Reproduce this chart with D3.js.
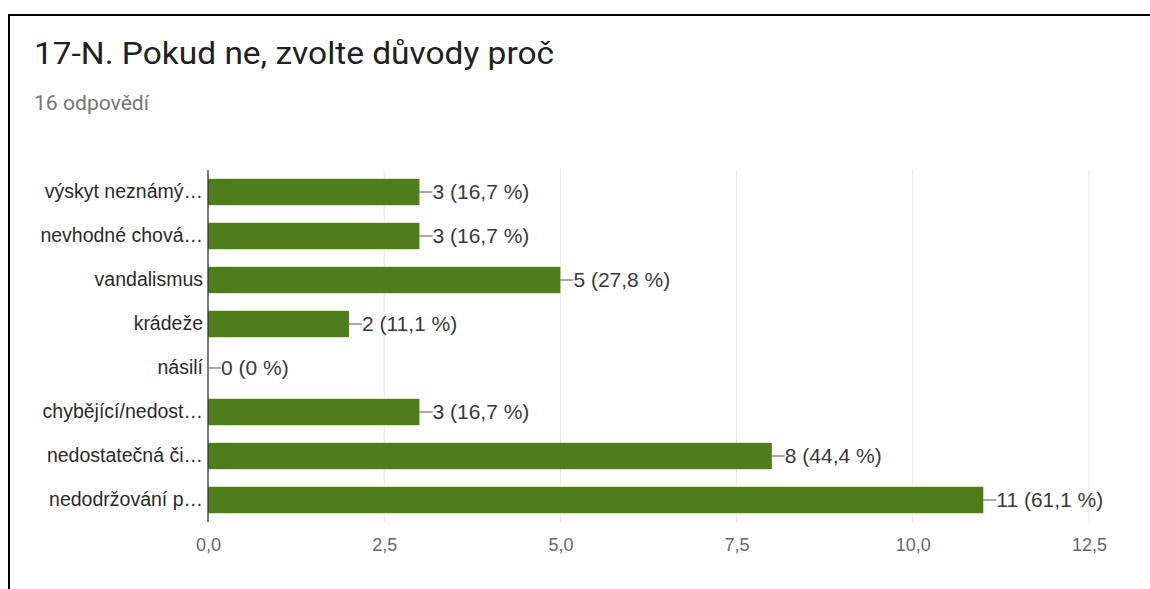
<!DOCTYPE html>
<html><head><meta charset="utf-8">
<script src="https://cdn.jsdelivr.net/npm/d3@7"></script>
<style>html,body{margin:0;padding:0;background:#fff;}svg{display:block;}</style>
</head><body>
<svg id="c" width="1150" height="589"></svg>
<script>
const title = "17-N. Pokud ne, zvolte důvody proč";
const subtitle = "16 odpovědí";
const categories = ["výskyt neznámý…","nevhodné chová…","vandalismus","krádeže","násilí","chybějící/nedost…","nedostatečná či…","nedodržování p…"];
const values = [3,3,5,2,0,3,8,11];
const percents = ["16,7 %","16,7 %","27,8 %","11,1 %","0 %","16,7 %","44,4 %","61,1 %"];
const ticks = [0,2.5,5,7.5,10,12.5];

const svg = d3.select("#c");
// frame (top and left edges only)
svg.append("line").attr("x1",8).attr("x2",1150).attr("y1",15).attr("y2",15).attr("stroke","#000").attr("stroke-width",2);
svg.append("line").attr("x1",9).attr("x2",9).attr("y1",14).attr("y2",589).attr("stroke","#000").attr("stroke-width",2);

svg.append("text").attr("x",34).attr("y",64).attr("font-family","Roboto").attr("font-size",32)
  .attr("fill","#212121").attr("textLength",520).attr("lengthAdjust","spacingAndGlyphs").text(title);
svg.append("text").attr("x",34).attr("y",110).attr("font-family","Roboto").attr("font-size",19.5)
  .attr("fill","#757575").attr("textLength",115).attr("lengthAdjust","spacingAndGlyphs").text(subtitle);

const x = d3.scaleLinear().domain([0,12.5]).range([208,1089]);
const y = d3.scaleBand().domain(categories).range([170,522]).paddingInner(0.4).paddingOuter(0.2);
const font = "Liberation Sans, Arial, sans-serif";

// grid
svg.append("g").selectAll("line").data(ticks.slice(1)).join("line")
  .attr("x1",d=>x(d)).attr("x2",d=>x(d)).attr("y1",170).attr("y2",522)
  .attr("stroke","#e8e8e8").attr("stroke-width",1);

// x tick labels
const xa = d3.axisBottom(x).tickValues(ticks).tickSize(0).tickPadding(0)
  .tickFormat(d=>d3.format(".1f")(d).replace(".",","));
const gx = svg.append("g").attr("transform","translate(0,538)").call(xa);
gx.select(".domain").remove();
gx.selectAll("text").attr("font-family",font).attr("font-size",18).attr("fill","#666").attr("dy","0.71em");

// bars
svg.append("g").selectAll("rect").data(values).join("rect")
  .attr("x",x(0)).attr("y",(d,i)=>y(categories[i]))
  .attr("width",d=>x(d)-x(0)).attr("height",y.bandwidth()).attr("fill","#4e7d19");

// y labels
const ya = d3.axisLeft(y).tickSize(0).tickPadding(5);
const gy = svg.append("g").attr("transform",`translate(${x(0)},0)`).call(ya);
gy.select(".domain").remove();
gy.selectAll("text").attr("font-family",font).attr("font-size",19.5).attr("fill","#2a2a2a");

// baseline
svg.append("line").attr("x1",x(0)).attr("x2",x(0)).attr("y1",170).attr("y2",522)
  .attr("stroke","#333").attr("stroke-width",1.3);

// value labels
const vl = svg.append("g").selectAll("g").data(values).join("g")
  .attr("transform",(d,i)=>`translate(${x(d)},${y(categories[i])+y.bandwidth()/2})`);
vl.append("line").attr("x1",0).attr("x2",13).attr("stroke","#555").attr("stroke-width",1);
vl.append("text").attr("x",13).attr("dy","0.35em").attr("font-family",font).attr("font-size",21)
  .attr("fill","#3a3a3a").text((d,i)=>`${d} (${percents[i]})`);
</script>
</body></html>
